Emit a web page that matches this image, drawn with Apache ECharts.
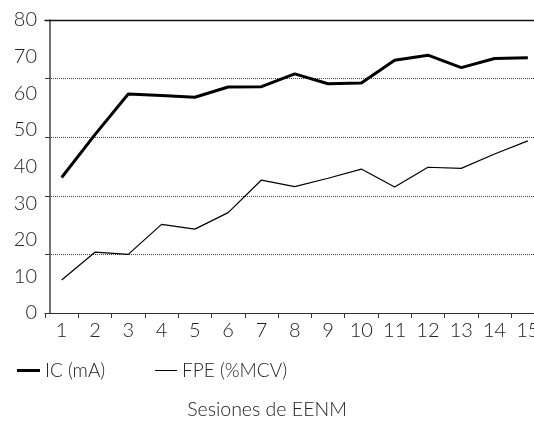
<!DOCTYPE html>
<html><head><meta charset="utf-8">
<script src="https://cdn.jsdelivr.net/npm/echarts@6/dist/echarts.min.js"></script>
<style>html,body{margin:0;padding:0;background:#fff}#c{width:534px;height:423px}</style>
</head><body><div id="c"></div>
<script>
var sessions = ['1','2','3','4','5','6','7','8','9','10','11','12','13','14','15'];
var icValues = [37, 48.7, 59.8, 59.4, 58.9, 61.7, 61.8, 65.3, 62.6, 62.8, 69.0, 70.4, 67.0, 69.5, 69.7];
var fpeValues = [9.0, 16.6, 16.0, 24.2, 22.9, 27.4, 36.3, 34.5, 36.8, 39.3, 34.4, 39.8, 39.5, 43.4, 47.0];
var yLabelMax = 80, yLabelStep = 10;
var gridMax = 100, gridStep = 20;
var seriesNames = ['IC (mA)', 'FPE (%MCV)'];
var xTitle = 'Sesiones de EENM';

var FONT = 'Lato';
var W = 300;
var TXT = '#222';
var chart = echarts.init(document.getElementById('c'));
chart.setOption({
  animation: false,
  backgroundColor: '#fff',
  grid: { left: 45, right: -10.5, top: 20, bottom: 110, containLabel: false, outerBoundsMode: 'none' },
  xAxis: [{
    type: 'category', data: sessions, boundaryGap: true, position: 'bottom', z: 10,
    axisLine: { show: true, onZero: false, lineStyle: { color: '#333', width: 1.2 } },
    axisTick: { show: true, length: 5, inside: false, lineStyle: { color: '#333' } },
    axisLabel: { color: TXT, fontFamily: FONT, fontWeight: W, fontSize: 20, margin: 8, interval: 0, hideOverlap: false },
    splitLine: { show: false }
  }, {
    type: 'category', data: sessions, position: 'top', z: 10,
    axisLine: { show: true, onZero: false, lineStyle: { color: '#111', width: 1.3 } },
    axisTick: { show: false }, axisLabel: { show: false }, splitLine: { show: false }
  }],
  yAxis: [{
    type: 'value', min: 0, max: yLabelMax, interval: yLabelStep, position: 'left', offset: -5, z: 10,
    axisLine: { show: true, onZero: false, lineStyle: { color: '#444', width: 1.5 } },
    axisTick: { show: false },
    axisLabel: { color: TXT, fontFamily: FONT, fontWeight: W, fontSize: 20, margin: 13 },
    splitLine: { show: false }
  }, {
    type: 'value', min: 0, max: gridMax, interval: gridStep, position: 'left', offset: -5, z: 1,
    axisLine: { show: false, onZero: false },
    axisTick: { show: true, length: 5, lineStyle: { color: '#333' } },
    axisLabel: { show: false },
    splitLine: { show: true, lineStyle: { color: '#444', type: [1, 1], width: 1 } }
  }],
  legend: [{
    left: 12, top: 356, data: [seriesNames[0]], icon: 'rect', itemWidth: 23, itemHeight: 3,
    textStyle: { color: TXT, fontFamily: FONT, fontWeight: W, fontSize: 19 }, itemGap: 10
  }, {
    left: 150, top: 356, data: [seriesNames[1]], icon: 'rect', itemWidth: 22, itemHeight: 1,
    textStyle: { color: TXT, fontFamily: FONT, fontWeight: W, fontSize: 19 }
  }],
  title: {
    text: xTitle, left: 'center', top: 395,
    textStyle: { color: TXT, fontFamily: FONT, fontSize: 19.5, fontWeight: W }
  },
  series: [{
    name: seriesNames[0], type: 'line', data: icValues, yAxisIndex: 0, z: 5,
    showSymbol: false, symbol: 'none',
    lineStyle: { color: '#000', width: 3 }, itemStyle: { color: '#000' }
  }, {
    name: seriesNames[1], type: 'line', data: fpeValues, yAxisIndex: 0, z: 5,
    showSymbol: false, symbol: 'none',
    lineStyle: { color: '#000', width: 1.2 }, itemStyle: { color: '#000' }
  }]
});
</script></body></html>
